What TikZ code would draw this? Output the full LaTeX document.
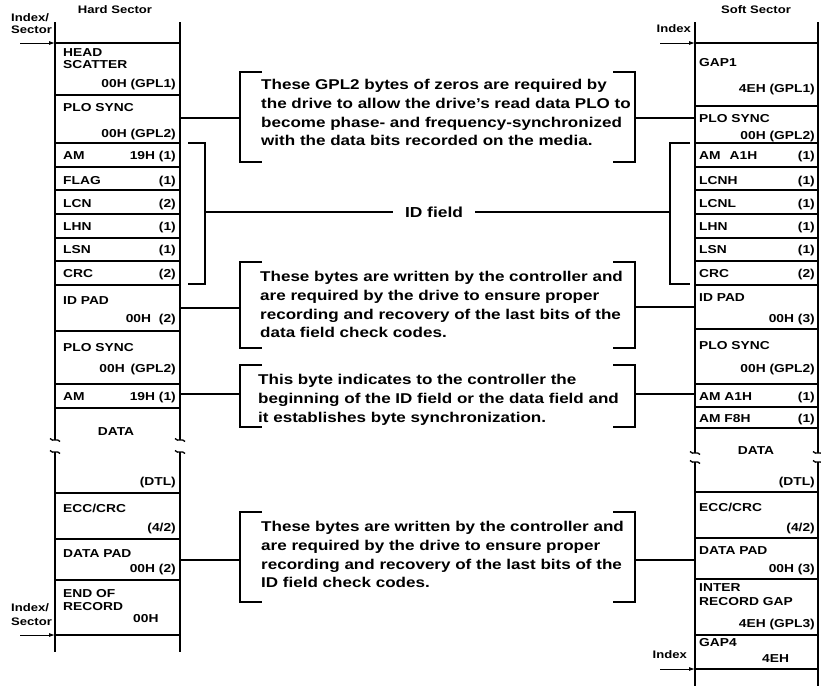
\documentclass[tikz,border=0pt]{standalone}
\usepackage{fontspec}
\setmainfont{Liberation Sans}[FakeStretch=1.2]
\usetikzlibrary{arrows.meta}
\begin{document}
\begin{tikzpicture}[x=1pt,y=-1pt,
  colline/.style={line width=1.4pt},
  rowline/.style={line width=1.6pt},
  link/.style={line width=1.3pt},
  bracket/.style={line width=2pt},
  lab/.style={font=\bfseries\fontsize{11.5}{13}\selectfont, inner sep=0pt, text height=8.3pt, text depth=0pt},
  labl/.style={lab, anchor=west},
  labr/.style={lab, anchor=east},
  labc/.style={lab, anchor=center},
  head/.style={lab, font=\bfseries\fontsize{10.9}{12}\selectfont, text height=7.8pt},
  note/.style={font=\bfseries\fontsize{14.2}{18.8}\selectfont, align=left, inner sep=0pt, anchor=north west},
  idx/.style={-{Latex[length=6pt,width=4pt]}, line width=0.9pt},
  breakmark/.pic={\draw[line width=1.3pt] (-5,-1.5) .. controls (-2,2.5) and (2,-2.5) .. (5,1.5);},
]
\useasboundingbox (0,0) rectangle (821,686);

% ---------- hard sector column ----------
\draw[colline] (55,22) -- (55,440) (180,22) -- (180,440)
               (55,452) -- (55,652) (180,452) -- (180,652);
\foreach \y in {43,95,143,167,190,214,238,261,285,331,384,408,493,539,580,635}
  \draw[rowline] (55,\y) -- (180,\y);
\foreach \x in {55,180} { \pic at (\x,440) {breakmark}; \pic at (\x,452) {breakmark}; }

\node[head, anchor=center] (hs) at (115,10) {Hard Sector};
\node[head, anchor=west] (hi1) at (11,18) {Index/};
\node[head, anchor=west] (hi2) at (11,30) {Sector};
\coordinate (hin) at (20,43);
\coordinate (hinT) at (55,43);
\draw[idx] (hin) -- (hinT);

\node[labl] (h1a) at (63,52) {HEAD};
\node[labl] (h1b) at (63,64) {SCATTER};
\node[labr] (h1c) at (176,83) {00H (GPL1)};
\node[labl] (h2a) at (63,107) {PLO SYNC};
\node[labr] (h2b) at (176,133) {00H (GPL2)};
\node[labl] (h3a) at (63,155) {AM};
\node[labr] (h3b) at (176,155) {19H (1)};
\node[labl] (h4a) at (63,180) {FLAG};
\node[labr] (h4b) at (176,180) {(1)};
\node[labl] (h5a) at (63,203) {LCN};
\node[labr] (h5b) at (176,203) {(2)};
\node[labl] (h6a) at (63,226) {LHN};
\node[labr] (h6b) at (176,226) {(1)};
\node[labl] (h7a) at (63,249) {LSN};
\node[labr] (h7b) at (176,249) {(1)};
\node[labl] (h8a) at (63,273) {CRC};
\node[labr] (h8b) at (176,273) {(2)};
\node[labl] (h9a) at (63,300) {ID PAD};
\node[labr] (h9b) at (176,318) {00H\hspace{4pt} (2)};
\node[labl] (h10a) at (63,347) {PLO SYNC};
\node[labr] (h10b) at (176,368) {00H\hspace{2pt} (GPL2)};
\node[labl] (h11a) at (63,396) {AM};
\node[labr] (h11b) at (176,396) {19H (1)};
\node[labc] (h12) at (116,431) {DATA};
\node[labr] (h13) at (176,481) {(DTL)};
\node[labl] (h14a) at (63,508) {ECC/CRC};
\node[labr] (h14b) at (176,527) {(4/2)};
\node[labl] (h15a) at (63,553) {DATA PAD};
\node[labr] (h15b) at (176,568) {00H (2)};
\node[labl] (h16a) at (63,593) {END OF};
\node[labl] (h16b) at (63,606) {RECORD};
\node[labl] (h16c) at (133,618) {00H};

\node[head, anchor=west] (hi3) at (11,608) {Index/};
\node[head, anchor=west] (hi4) at (11,622) {Sector};
\coordinate (hout) at (20,635);
\coordinate (houtT) at (55,635);
\draw[idx] (hout) -- (houtT);

% ---------- soft sector column ----------
\draw[colline] (695,22) -- (695,453) (818,22) -- (818,453)
               (695,462) -- (695,686) (818,462) -- (818,686);
\foreach \y in {43,106,143,167,190,214,238,261,285,329,384,407,428,492,538,579,635,669}
  \draw[rowline] (695,\y) -- (818,\y);
\foreach \x in {695,818} { \pic at (\x,453) {breakmark}; \pic at (\x,462) {breakmark}; }

\node[head, anchor=center] (ss) at (756,10) {Soft Sector};
\node[head, anchor=east] (si1) at (691,29) {Index};
\coordinate (sin) at (660,43);
\coordinate (sinT) at (695,43);
\draw[idx] (sin) -- (sinT);

\node[labl] (s1a) at (699,62) {GAP1};
\node[labr] (s1b) at (815,88) {4EH (GPL1)};
\node[labl] (s2a) at (699,118) {PLO SYNC};
\node[labr] (s2b) at (815,135) {00H (GPL2)};
\node[labl] (s3a) at (699,155) {AM\hspace{9pt}A1H};
\node[labr] (s3b) at (815,155) {(1)};
\node[labl] (s4a) at (699,180) {LCNH};
\node[labr] (s4b) at (815,180) {(1)};
\node[labl] (s5a) at (699,203) {LCNL};
\node[labr] (s5b) at (815,203) {(1)};
\node[labl] (s6a) at (699,226) {LHN};
\node[labr] (s6b) at (815,226) {(1)};
\node[labl] (s7a) at (699,249) {LSN};
\node[labr] (s7b) at (815,249) {(1)};
\node[labl] (s8a) at (699,273) {CRC};
\node[labr] (s8b) at (815,273) {(2)};
\node[labl] (s9a) at (699,297) {ID PAD};
\node[labr] (s9b) at (815,318) {00H (3)};
\node[labl] (s10a) at (699,345) {PLO SYNC};
\node[labr] (s10b) at (815,368) {00H (GPL2)};
\node[labl] (s11a) at (699,396) {AM A1H};
\node[labr] (s11b) at (815,396) {(1)};
\node[labl] (s12a) at (699,418) {AM F8H};
\node[labr] (s12b) at (815,418) {(1)};
\node[labc] (s13) at (756,450) {DATA};
\node[labr] (s14) at (815,481) {(DTL)};
\node[labl] (s15a) at (699,507) {ECC/CRC};
\node[labr] (s15b) at (815,527) {(4/2)};
\node[labl] (s16a) at (699,550) {DATA PAD};
\node[labr] (s16b) at (815,568) {00H (3)};
\node[labl] (s17a) at (699,587) {INTER};
\node[labl] (s17b) at (699,601) {RECORD GAP};
\node[labr] (s17c) at (815,623) {4EH (GPL3)};
\node[labl] (s18a) at (699,642) {GAP4};
\node[labl] (s18b) at (762,658) {4EH};

\node[head, anchor=east] (si2) at (687,655) {Index};
\coordinate (sout) at (660,669);
\coordinate (soutT) at (695,669);
\draw[idx] (sout) -- (soutT);

% ---------- explanatory notes with their brackets ----------
\node[note] (n1) at (261,79) {These GPL2 bytes of zeros are required by\\
  the drive to allow the drive's read data PLO to\\
  become phase- and frequency-synchronized\\
  with the data bits recorded on the media.};
\node[note] (n2) at (260,271) {These bytes are written by the controller and\\
  are required by the drive to ensure proper\\
  recording and recovery of the last bits of the\\
  data field check codes.};
\node[note] (n3) at (258,374) {This byte indicates to the controller the\\
  beginning of the ID field or the data field and\\
  it establishes byte synchronization.};
\node[note] (n4) at (261,521) {These bytes are written by the controller and\\
  are required by the drive to ensure proper\\
  recording and recovery of the last bits of the\\
  ID field check codes.};

\foreach \t/\b in {72/162, 262/348, 365/427, 512/602} {
  \draw[bracket] (262,\t) -- (240,\t) -- (240,\b) -- (262,\b);
  \draw[bracket] (613,\t) -- (635,\t) -- (635,\b) -- (613,\b);
}

% connector end points
\coordinate (hPLO) at (180,118);  \coordinate (n1w) at (240,118);
\coordinate (n1e) at (635,118);   \coordinate (sPLO) at (695,118);
\coordinate (hPAD) at (180,308);  \coordinate (n2w) at (240,308);
\coordinate (n2e) at (635,307);   \coordinate (sPAD) at (695,307);
\coordinate (hAM) at (180,394);   \coordinate (n3w) at (240,394);
\coordinate (n3e) at (635,394);   \coordinate (sAM) at (695,394);
\coordinate (hDP) at (180,560);   \coordinate (n4w) at (240,560);
\coordinate (n4e) at (635,560);   \coordinate (sDP) at (695,560);

\draw[link] (hPLO) -- (n1w) (n1e) -- (sPLO);
\draw[link] (hPAD) -- (n2w) (n2e) -- (sPAD);
\draw[link] (hAM) -- (n3w) (n3e) -- (sAM);
\draw[link] (hDP) -- (n4w) (n4e) -- (sDP);

% ---------- ID field span ----------
\coordinate (idl) at (205,212);
\coordinate (idr) at (670,212);
\node[font=\bfseries\fontsize{14.5}{16}\selectfont, inner xsep=12pt, inner ysep=0pt] (idf) at (434,212) {ID field};
\draw[bracket] (188,143) -- (205,143) -- (205,284) -- (188,284);
\draw[bracket] (690,143) -- (670,143) -- (670,284) -- (690,284);
\draw[link] (idl) -- (idf) -- (idr);
\end{tikzpicture}
\end{document}
